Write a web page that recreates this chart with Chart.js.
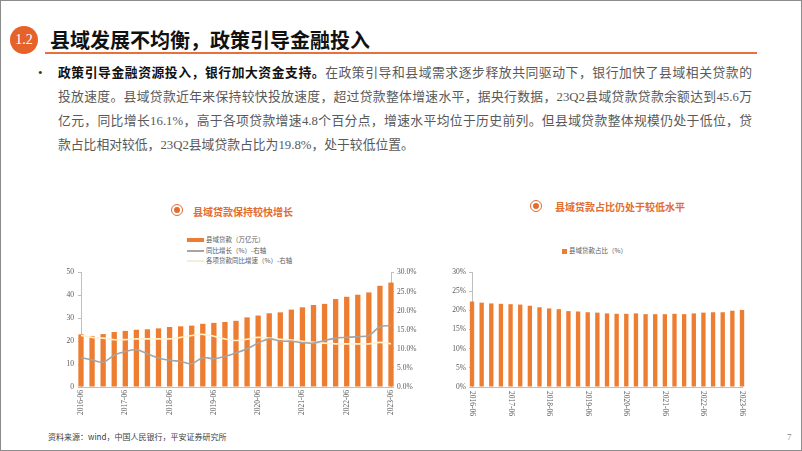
<!DOCTYPE html>
<html>
<head>
<meta charset="utf-8">
<script src="https://cdn.jsdelivr.net/npm/chart.js"></script>
<style>
  html, body { margin: 0; padding: 0; }
  body { width: 802px; height: 451px; position: relative; overflow: hidden; background: #fff;
         font-family: "Liberation Serif", "Noto Sans CJK SC", serif; }
  .frame { position: absolute; left: 0; top: 0; width: 800px; height: 449px; border: 1px solid #8c8c8c; }
  .num { position: absolute; left: 10px; top: 26px; width: 28px; height: 28px; border-radius: 50%;
         background: #E5622B; color: #fff; font-size: 14px; line-height: 28px; text-align: center; }
  .title { position: absolute; left: 50px; top: 26px; font-size: 20px; line-height: 28px; font-weight: bold;
           color: #111; font-family: "Noto Sans CJK SC", sans-serif; }
  .rule { position: absolute; left: 45px; top: 52px; width: 712px; height: 2px; background: #E8703A; }
  .bullet { position: absolute; left: 38px; top: 61px; font-size: 13px; line-height: 24px; color: #333; }
  .para { position: absolute; left: 58px; top: 61px; width: 694px; font-size: 12.8px; line-height: 24px; color: #595959; }
  .para div { white-space: nowrap; text-align: justify; text-align-last: justify; }
  .para div.last { text-align-last: left; }
  .para b { color: #111; }
  .ctitle { position: absolute; font-size: 10px; line-height: 14px; color: #E36C2F; font-weight: bold;
            font-family: "Noto Sans CJK SC", sans-serif; white-space: nowrap; }
  .icon { position: absolute; width: 10px; height: 10px; border: 1.5px solid #E36C2F; border-radius: 50%; }
  .icon::after { content: ""; position: absolute; left: 2px; top: 2px; width: 6px; height: 6px; border-radius: 50%; background: #E36C2F; }
  .leg { position: absolute; font-size: 6.5px; line-height: 9px; color: #595959; white-space: nowrap;
         font-family: "Noto Sans CJK SC", sans-serif; }
  .sw { position: absolute; }
  .chartbox { position: absolute; }
  .src { position: absolute; left: 48px; top: 431px; font-size: 8px; line-height: 12px; color: #404040;
         font-family: "Noto Sans CJK SC", sans-serif; white-space: nowrap; }
  .page { position: absolute; left: 787px; top: 432px; font-size: 9px; color: #7f7f7f; }
</style>
</head>
<body>
<div class="frame"></div>
<div class="num">1.2</div>
<div class="title">县域发展不均衡，政策引导金融投入</div>
<div class="rule"></div>

<div class="bullet">•</div>
<div class="para">
  <div><b>政策引导金融资源投入，银行加大资金支持。</b>在政策引导和县域需求逐步释放共同驱动下，银行加快了县域相关贷款的</div>
  <div>投放速度。县域贷款近年来保持较快投放速度，超过贷款整体增速水平，据央行数据，23Q2县域贷款贷款余额达到45.6万</div>
  <div>亿元，同比增长16.1%，高于各项贷款增速4.8个百分点，增速水平均位于历史前列。但县域贷款整体规模仍处于低位，贷</div>
  <div class="last">款占比相对较低，23Q2县域贷款占比为19.8%，处于较低位置。</div>
</div>

<!-- left chart header -->
<div class="icon" style="left:171px; top:204px;"></div>
<div class="ctitle" style="left:193px; top:205px;">县域贷款保持较快增长</div>
<div class="sw" style="left:187px; top:238px; width:17px; height:4px; background:#ED7D31;"></div>
<div class="leg" style="left:206px; top:235px;">县域贷款（万亿元）</div>
<div class="sw" style="left:187px; top:250px; width:17px; height:1.5px; background:#A5A5A5;"></div>
<div class="leg" style="left:206px; top:246px;">同比增长（%）-右轴</div>
<div class="sw" style="left:187px; top:260px; width:17px; height:1.5px; background:#F4EEDC;"></div>
<div class="leg" style="left:206px; top:256px;">各项贷款同比增速（%）-右轴</div>
<div class="chartbox" style="left:40px; top:264px;"><canvas id="loanChart" width="390" height="160"></canvas></div>

<!-- right chart header -->
<div class="icon" style="left:530px; top:200px;"></div>
<div class="ctitle" style="left:555px; top:200px;">县域贷款占比仍处于较低水平</div>
<div class="sw" style="left:562px; top:249px; width:5px; height:5px; background:#ED7D31;"></div>
<div class="leg" style="left:569px; top:246px;">县域贷款占比（%）</div>
<div class="chartbox" style="left:430px; top:264px;"><canvas id="shareChart" width="360" height="160"></canvas></div>

<div class="src">资料来源：wind，中国人民银行，平安证券研究所</div>
<div class="page">7</div>

<script>
// Quarter labels
const quarters = [
    '2016-06', '2016-09', '2016-12',
    '2017-03', '2017-06', '2017-09', '2017-12',
    '2018-03', '2018-06', '2018-09', '2018-12',
    '2019-03', '2019-06', '2019-09', '2019-12',
    '2020-03', '2020-06', '2020-09', '2020-12',
    '2021-03', '2021-06', '2021-09', '2021-12',
    '2022-03', '2022-06', '2022-09', '2022-12',
    '2023-03', '2023-06'
];

// County loans, trillion yuan (left axis)
const countyLoans = [23.0, 22.3, 23.1, 24.0, 24.5, 25.0, 25.2, 25.6, 26.2, 26.5, 26.8, 27.6, 28.0, 28.4, 28.9,
                     30.4, 31.2, 32.2, 32.6, 33.8, 34.8, 35.8, 36.3, 38.4, 39.4, 40.3, 41.3, 44.2, 45.6];

// County loan YoY growth, % (right axis)
const countyGrowth = [7.7, 7.1, 6.5, 8.3, 9.3, 9.8, 8.7, 7.6, 7.0, 6.7, 6.1, 7.7, 7.4, 8.0, 8.9,
                      10.0, 11.5, 12.6, 12.0, 12.0, 11.6, 11.5, 12.2, 12.8, 13.0, 13.2, 13.5, 15.8, 16.1];

// All loans YoY growth, % (right axis)
const totalGrowth = [13.5, 13.0, 12.8, 12.4, 12.4, 12.6, 12.6, 12.6, 12.6, 13.0, 13.5, 13.8, 13.3, 12.6, 12.2,
                     12.5, 13.0, 12.8, 12.5, 12.3, 12.0, 11.7, 11.5, 11.3, 11.3, 11.3, 11.3, 11.7, 11.3];

// County loans share of all loans, %
const countyShare = [22.3, 22.0, 21.8, 21.7, 21.6, 21.5, 21.2, 20.8, 20.5, 20.3, 19.8, 19.7, 19.5, 19.4, 19.2,
                     19.1, 19.1, 19.2, 19.0, 19.0, 19.0, 19.1, 19.0, 19.2, 19.4, 19.5, 19.5, 19.9, 20.1];

const tickFont = { family: 'Liberation Serif', size: 7.5 };
const tickColor = '#595959';
const axisColor = '#BFBFBF';

// Left chart: loans + growth lines
new Chart(document.getElementById('loanChart'), {
    data: {
        labels: quarters,
        datasets: [
            {
                type: 'line', label: '同比增长（%）-右轴', data: countyGrowth, yAxisID: 'y1',
                borderColor: '#A5A5A5', borderWidth: 1.6, pointRadius: 0, tension: 0.3, order: 1
            },
            {
                type: 'line', label: '各项贷款同比增速（%）-右轴', data: totalGrowth, yAxisID: 'y1',
                borderColor: '#FFF2CC', borderWidth: 1.6, pointRadius: 0, tension: 0.3, order: 2
            },
            {
                type: 'bar', label: '县域贷款（万亿元）', data: countyLoans, yAxisID: 'y',
                backgroundColor: '#ED7D31', barPercentage: 0.48, categoryPercentage: 1, order: 3, clip: false
            }
        ]
    },
    options: {
        responsive: false,
        animation: false,
        layout: { padding: { top: 8, left: 0, right: 0, bottom: 0 } },
        plugins: { legend: { display: false }, tooltip: { enabled: false } },
        scales: {
            x: {
                offset: false,
                grid: { display: false, drawTicks: false },
                border: { color: axisColor },
                ticks: {
                    autoSkip: false, minRotation: 90, maxRotation: 90, padding: 3,
                    font: tickFont, color: tickColor,
                    callback: (v, i) => (i % 4 === 0 ? quarters[i] : '')
                },
                afterFit: s => { s.height = 37; }
            },
            y: {
                position: 'left', min: 0, max: 50,
                grid: { drawOnChartArea: false, tickLength: 3, color: axisColor },
                border: { color: axisColor },
                ticks: { stepSize: 5, padding: 4, font: tickFont, color: tickColor },
                afterFit: s => { s.width = 41; }
            },
            y1: {
                position: 'right', min: 0, max: 30,
                grid: { drawOnChartArea: false, tickLength: 3, color: axisColor },
                border: { color: axisColor },
                ticks: { stepSize: 5, padding: 3, font: tickFont, color: tickColor, callback: v => v.toFixed(1) + '%' },
                afterFit: s => { s.width = 39; }
            }
        }
    }
});

// Rotated (top-to-bottom) quarter labels for the share chart
const downLabels = {
    id: 'downLabels',
    afterDraw(chart) {
        const xs = chart.scales.x;
        const ctx = chart.ctx;
        ctx.save();
        ctx.font = '7.5px "Liberation Serif"';
        ctx.fillStyle = tickColor;
        ctx.textAlign = 'left';
        ctx.textBaseline = 'middle';
        quarters.forEach((q, i) => {
            if (i % 4 !== 0) return;
            ctx.save();
            ctx.translate(xs.getPixelForValue(i), xs.top + 4);
            ctx.rotate(Math.PI / 2);
            ctx.fillText(q, 0, 0);
            ctx.restore();
        });
        ctx.restore();
    }
};

// Right chart: share of county loans
new Chart(document.getElementById('shareChart'), {
    type: 'bar',
    data: {
        labels: quarters,
        datasets: [{
            label: '县域贷款占比（%）', data: countyShare,
            backgroundColor: '#ED7D31', barPercentage: 0.45, categoryPercentage: 1, clip: false
        }]
    },
    options: {
        responsive: false,
        animation: false,
        layout: { padding: { top: 8, left: 0, right: 48, bottom: 0 } },
        plugins: { legend: { display: false }, tooltip: { enabled: false } },
        scales: {
            x: {
                offset: false,
                grid: { display: false, drawTicks: false },
                border: { color: axisColor },
                ticks: { display: false },
                afterFit: s => { s.height = 37; }
            },
            y: {
                min: 0, max: 30,
                grid: { drawOnChartArea: false, tickLength: 3, color: axisColor },
                border: { color: axisColor },
                ticks: { stepSize: 5, padding: 3, font: tickFont, color: tickColor, callback: v => v + '%' },
                afterFit: s => { s.width = 42; }
            }
        }
    },
    plugins: [downLabels]
});
</script>
</body>
</html>
